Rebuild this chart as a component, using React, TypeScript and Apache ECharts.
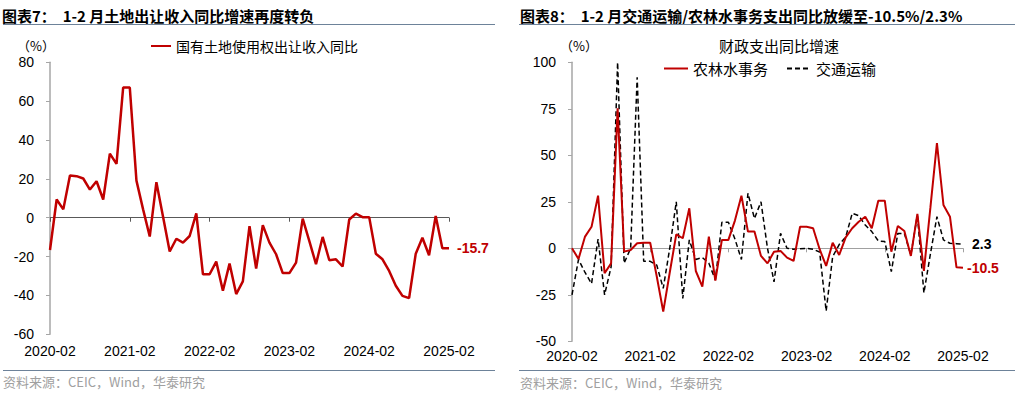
import React, { useEffect, useRef } from "react";
import * as echarts from "echarts";

// Monthly categories 2020-02 .. 2025-02
const months: string[] = [];
for (let y = 2020; y <= 2025; y++) {
  for (let m = 1; m <= 12; m++) {
    if (y === 2020 && m < 2) continue;
    if (y === 2025 && m > 2) continue;
    months.push(`${y}-${m < 10 ? "0" + m : m}`);
  }
}

const landRevenueYoY: number[] = [
  -16.6, 9.4, 4.3, 21.7, 21.4, 20.2, 14.5, 18.8, 9.4, 33.0, 27.7, 67.0,
  67.0, 19.1, 4.3, -9.7, 18.3, 0.5, -17.4, -10.8, -12.8, -9.4, 2.2, -29.1,
  -29.1, -22.6, -37.6, -23.6, -39.3, -32.8, -4.3, -26.2, -3.8, -12.8, -18.8, -28.5,
  -28.5, -23.1, -0.5, -12.0, -23.9, -9.9, -21.9, -21.4, -25.1, -0.9, 2.1, 0.3,
  0.3, -18.5, -21.4, -27.4, -35.0, -40.2, -41.4, -18.5, -10.3, -19.3, 0.9, -15.7,
  -15.7,
];

const agriWaterYoY: number[] = [
  0, -5.7, 6.3, 11.6, 28.3, -13.4, -8.1, 75.3, -1.8, -0.9, 2.7, 3.0,
  3.0, -15, -34.0, -13, 7.5, 5.4, 21.5, -12.2, -20.6, 6.3, -17.4, 4.5,
  4.5, 14.9, 28.3, 9.0, 9.0, -4.1, -8.1, -1.8, -1.4, -5.0, -6.8, 11.6,
  11.6, 10.8, -0.5, -9.5, 3.0, -3.6, 5.9, 10.8, 14.3, 17.0, 10.8, 25.6,
  25.6, -1.8, 12.0, 9.3, -4.1, 18.5, -12.2, 22, 56.5, 23.3, 17.0, -10.2,
  -10.5,
];

const transportYoY: number[] = [
  -25, -6, -13, -19, 5, -25, -10, 100, -8, 0, 92, -7,
  -7, -9, -21.5, 0, 25, -27, 4.5, -6, -5, -8, -17, 14,
  14, 5, -6, 29.6, 16, 25, 0, -18, 8, 0, -0.5, -0.3,
  0, -0.5, -2, -33.7, -4.5, 2, 6, 18.8, 17.5, 12.5, 9, 4,
  3.6, -12.5, 8, 8, -3.6, 18, -24, -3, 17, 4.5, 2.7, 2.5,
  2.3,
];

const leftTitle = "图表7：  1-2 月土地出让收入同比增速再度转负";
const rightTitle = "图表8：  1-2 月交通运输/农林水事务支出同比放缓至-10.5%/2.3%";
const rightChartTitle = "财政支出同比增速";
const sourceText = "资料来源：CEIC，Wind，华泰研究";
const seriesNames = ["国有土地使用权出让收入同比", "农林水事务", "交通运输"];

const RED = "#c00000";
const FONT_NUM = '"Liberation Sans", Arial, "Noto Sans CJK SC", sans-serif';
const FONT_CJK = '"Noto Sans CJK SC", "Liberation Sans", sans-serif';

function txt(x: number, y: number, text: string, opts: any = {}) {
  return {
    type: "text",
    x,
    y,
    silent: true,
    style: {
      text,
      fill: opts.fill || "#000",
      fontSize: opts.fontSize || 14,
      fontFamily: opts.fontFamily || FONT_CJK,
      fontWeight: opts.fontWeight || "normal",
      align: opts.align || "left",
      verticalAlign: "middle",
      textAlign: opts.align || "left",
      textVerticalAlign: "middle",
    },
  };
}

function hline(x1: number, x2: number, y: number, color: string, w = 1) {
  return {
    type: "line",
    silent: true,
    shape: { x1, y1: y, x2, y2: y },
    style: { stroke: color, lineWidth: w },
  };
}

export default function App() {
  const ref = useRef<HTMLDivElement>(null);
  useEffect(() => {
    if (!ref.current) return;
    const chart = echarts.init(ref.current, undefined, { renderer: "svg" });
    const RULE = "#6d8299";
    const yAxisCommon = (min: number, max: number, interval: number, gridIndex: number) => ({
      type: "value",
      gridIndex,
      min,
      max,
      interval,
      axisLine: { show: true, lineStyle: { color: "#a6a6a6", width: 1.5 } },
      axisTick: { show: true, length: 4, lineStyle: { color: "#a6a6a6" } },
      splitLine: { show: false },
      axisLabel: { color: "#000", fontSize: 14, fontFamily: FONT_NUM, margin: 16 },
    });
    const zeroAxis = (gridIndex: number, color: string) => ({
      type: "category",
      gridIndex,
      data: months,
      boundaryGap: false,
      position: "bottom",
      axisLine: { show: true, onZero: true, lineStyle: { color, width: 1 } },
      axisTick: { show: true, interval: 11, length: 4, lineStyle: { color } },
      axisLabel: { show: false },
      splitLine: { show: false },
    });
    const labelAxis = (gridIndex: number, margin: number) => ({
      type: "category",
      gridIndex,
      data: months,
      boundaryGap: false,
      position: "bottom",
      axisLine: { show: false, onZero: false },
      axisTick: { show: false },
      axisLabel: {
        show: true,
        interval: 11,
        color: "#000",
        fontSize: 14,
        fontFamily: FONT_NUM,
        margin,
      },
      splitLine: { show: false },
    });

    chart.setOption({
      animation: false,
      backgroundColor: "#fff",
      grid: [
        { left: 50, top: 62.3, width: 399, height: 272, containLabel: false },
        { left: 572, top: 62.3, width: 391, height: 279, containLabel: false },
      ],
      xAxis: [zeroAxis(0, "#595959"), labelAxis(0, 10), zeroAxis(1, "#a0a0a0"), labelAxis(1, 8)],
      yAxis: [yAxisCommon(-60, 80, 20, 0), yAxisCommon(-50, 100, 25, 1)],
      legend: [
        {
          left: 150,
          top: 39,
          padding: 0,
          itemWidth: 20,
          itemHeight: 14,
          itemGap: 10,
          itemStyle: { opacity: 0 },
          data: [seriesNames[0]],
          textStyle: { fontSize: 14, color: "#000", fontFamily: FONT_CJK },
        },
        {
          left: 663,
          top: 61,
          padding: 0,
          itemWidth: 24,
          itemHeight: 14,
          itemGap: 18,
          itemStyle: { opacity: 0 },
          data: [seriesNames[1], seriesNames[2]],
          textStyle: { fontSize: 15, color: "#000", fontFamily: FONT_CJK },
        },
      ],
      series: [
        {
          name: seriesNames[0],
          type: "line",
          xAxisIndex: 0,
          yAxisIndex: 0,
          data: landRevenueYoY,
          symbol: "none",
          lineStyle: { color: RED, width: 2.5 },
          itemStyle: { color: RED },
          endLabel: {
            show: true,
            formatter: "-15.7",
            color: RED,
            fontWeight: "bold",
            fontSize: 14,
            fontFamily: FONT_NUM,
            distance: 8,
          },
        },
        {
          name: seriesNames[2],
          type: "line",
          xAxisIndex: 2,
          yAxisIndex: 1,
          data: transportYoY,
          symbol: "none",
          lineStyle: { color: "#000", width: 1.5, type: [5, 3] },
          itemStyle: { color: "#000" },
          endLabel: {
            show: true,
            formatter: "2.3",
            color: "#000",
            fontWeight: "bold",
            fontSize: 14,
            fontFamily: FONT_NUM,
            distance: 9,
          },
        },
        {
          name: seriesNames[1],
          type: "line",
          xAxisIndex: 2,
          yAxisIndex: 1,
          data: agriWaterYoY,
          symbol: "none",
          lineStyle: { color: RED, width: 2 },
          itemStyle: { color: RED },
          endLabel: {
            show: true,
            formatter: "-10.5",
            color: RED,
            fontWeight: "bold",
            fontSize: 14,
            fontFamily: FONT_NUM,
            distance: 4,
          },
        },
      ],
      graphic: [
        txt(2, 15, leftTitle, { fontSize: 15, fontWeight: "bold" }),
        hline(3, 495, 24.5, RULE, 1),
        txt(520, 15, rightTitle, { fontSize: 15, fontWeight: "bold" }),
        hline(519, 1015, 24.5, RULE, 1),
        txt(17, 45, "（%）", { fontSize: 13 }),
        txt(560, 45, "（%）", { fontSize: 13 }),
        txt(779, 45, rightChartTitle, { fontSize: 15, align: "center" }),
        hline(3, 495, 370.5, RULE, 1),
        hline(519, 1015, 370.5, RULE, 1),
        txt(3, 381, sourceText, { fontSize: 13, fill: "#a0a0a0" }),
        txt(520, 382, sourceText, { fontSize: 13, fill: "#a0a0a0" }),
      ],
    });
    return () => chart.dispose();
  }, []);
  return (
    <div
      ref={ref}
      style={{ position: "absolute", left: 0, top: 0, width: 1023, height: 393, background: "#fff" }}
    />
  );
}
